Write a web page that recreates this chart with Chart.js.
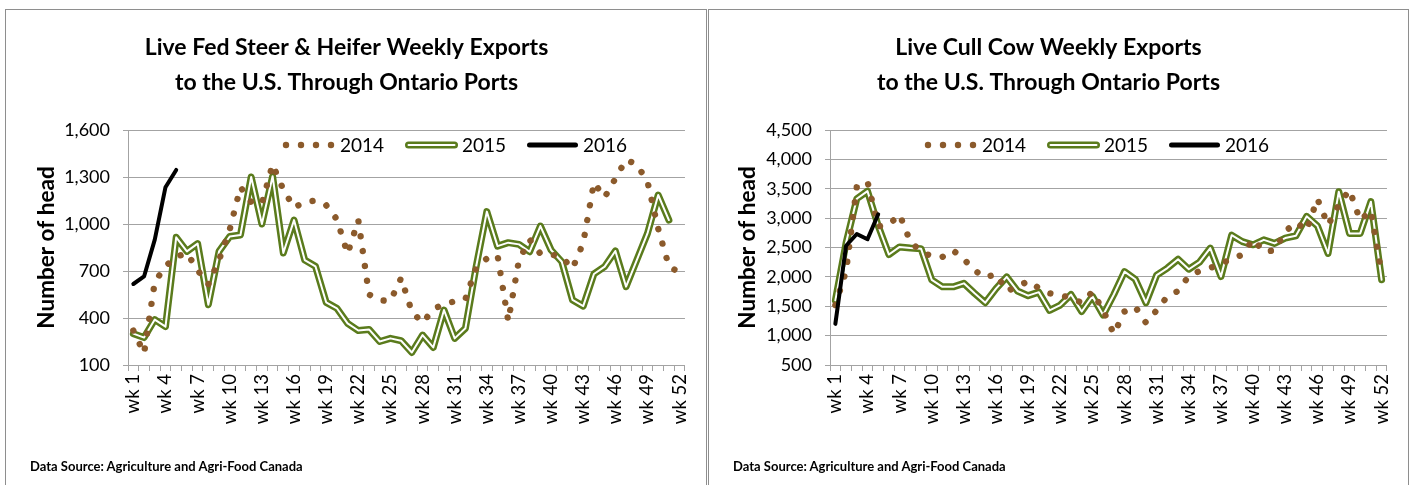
<!DOCTYPE html>
<html><head><meta charset="utf-8">
<script src="https://cdn.jsdelivr.net/npm/chart.js@4.4.1/dist/chart.umd.min.js"></script>
<style>
html,body{margin:0;padding:0;background:#fff;}
body{width:1411px;height:485px;position:relative;overflow:hidden;font-family:Lato,"Open Sans",sans-serif;}
.panel{position:absolute;box-sizing:border-box;border:1px solid #8e8e8e;background:#fff;}
canvas{position:absolute;}
.src{position:absolute;font:bold 13px Lato,sans-serif;color:#000;white-space:nowrap;line-height:16px;}
</style></head><body>
<div class="panel" style="left:5px;top:9px;width:702px;height:490px"></div>
<div class="panel" style="left:708px;top:9px;width:701px;height:490px"></div>
<canvas id="fed" width="699" height="474" style="left:6px;top:10px"></canvas>
<canvas id="cull" width="698" height="474" style="left:709px;top:10px"></canvas>
<div class="src" style="left:30px;top:458px">Data Source: Agriculture and Agri-Food Canada</div>
<div class="src" style="left:733px;top:458px">Data Source: Agriculture and Agri-Food Canada</div>
<script>
// ---------- DATA ----------
const weeks = Array.from({length: 52}, (_, i) => 'wk ' + (i + 1));
const seriesNames = ['2014', '2015', '2016'];

const fedSteer2014 = [320,175,630,730,790,815,705,615,770,965,
  1235,1140,1130,1380,1220,1105,1140,1150,1120,1030,
  810,1025,550,512,510,655,440,370,455,490,
  506,520,720,780,800,380,770,900,810,805,
  790,715,880,1264,1170,1290,1410,1380,1270,970,
  730,690];
const fedSteer2015 = [300,275,390,345,915,825,875,485,825,920,
  930,1300,1000,1305,815,1025,770,730,500,462,
  366,320,327,250,270,255,180,291,212,451,
  270,334,727,1079,859,881,870,823,987,834,
  759,515,476,681,728,828,600,770,940,1185,
  1025];
const fedSteer2016 = [617,665,900,1235,1345];

const cullCow2014 = [1520,2100,3530,3620,2860,2890,3060,2600,2430,2350,
  2340,2450,2300,2110,1990,2050,1760,1830,1930,1810,
  1720,1690,1640,1560,1745,1430,1030,1410,1490,1220,
  1430,1670,1760,2015,2100,2150,2230,2300,2380,2640,
  2430,2450,2770,2930,2790,3330,2880,3230,3480,2960,
  3130,2050];
const cullCow2015 = [1600,2580,3330,3460,2870,2380,2510,2490,2480,1950,
  1830,1830,1890,1720,1560,1800,2000,1760,1680,1740,
  1430,1520,1700,1410,1670,1350,1700,2090,1960,1560,
  2030,2150,2300,2130,2250,2490,2005,2710,2600,2545,
  2630,2570,2660,2700,3030,2870,2400,3450,2740,2740,
  3280,1950];
const cullCow2016 = [1200,2530,2730,2640,3065];

const fedTitle = ['Live Fed Steer & Heifer Weekly Exports', 'to the U.S. Through Ontario Ports'];
const cullTitle = ['Live Cull Cow Weekly Exports', 'to the U.S. Through Ontario Ports'];
const yTitle = 'Number of head';

// ---------- STYLE ----------
const FONT = 'Lato, "Open Sans", sans-serif';
const C14 = '#8b5a2b';
const C15 = '#5a7b1c';
const C16 = '#000000';
const GRID = '#a3a3a3';

const insideLegend = {
  id: 'insideLegend',
  afterDatasetsDraw(chart, args, opts) {
    const ctx = chart.ctx, a = chart.chartArea;
    const x0 = a.left + opts.offsetX, y = a.top + opts.offsetY;
    const names = opts.labels;
    ctx.save();
    ctx.fillStyle = C14;
    for (let i = 0; i < 4; i++) { ctx.beginPath(); ctx.arc(x0 + i * 15, y, 3.2, 0, Math.PI * 2); ctx.fill(); }
    ctx.lineCap = 'round';
    ctx.strokeStyle = C15; ctx.lineWidth = 7;
    ctx.beginPath(); ctx.moveTo(x0 + 122.5, y); ctx.lineTo(x0 + 168.5, y); ctx.stroke();
    ctx.strokeStyle = '#fff'; ctx.lineWidth = 2;
    ctx.beginPath(); ctx.moveTo(x0 + 122.5, y); ctx.lineTo(x0 + 168.5, y); ctx.stroke();
    ctx.strokeStyle = C16; ctx.lineWidth = 5;
    ctx.beginPath(); ctx.moveTo(x0 + 243.5, y); ctx.lineTo(x0 + 289.5, y); ctx.stroke();
    ctx.fillStyle = '#000'; ctx.font = '19px ' + FONT; ctx.textBaseline = 'middle'; ctx.textAlign = 'left';
    ctx.fillText(names[0], x0 + 54, y + 1);
    ctx.fillText(names[1], x0 + 176, y + 1);
    ctx.fillText(names[2], x0 + 297, y + 1);
    ctx.restore();
  }
};

function buildChart(id, s14, s15, s16, title, yMin, yMax, yStep, L) {
  return new Chart(document.getElementById(id), {
    type: 'line',
    data: {
      labels: weeks,
      datasets: [
        {label: seriesNames[2], data: s16, borderColor: C16, borderWidth: 4, borderCapStyle: 'round', borderJoinStyle: 'round', order: 0},
        {label: seriesNames[0], data: s14, borderColor: C14, borderWidth: 6.4, borderDash: [0.01, 15], borderCapStyle: 'round', borderJoinStyle: 'round', order: 1},
        {label: seriesNames[1], data: s15, borderColor: '#ffffff', borderWidth: 2, borderCapStyle: 'round', borderJoinStyle: 'round', order: 2},
        {label: seriesNames[1], data: s15, borderColor: C15, borderWidth: 7, borderCapStyle: 'round', borderJoinStyle: 'round', order: 3}
      ]
    },
    options: {
      responsive: false, animation: false, devicePixelRatio: 1,
      events: [],
      elements: {point: {radius: 0, hoverRadius: 0}, line: {tension: 0, fill: false}},
      layout: {padding: {left: 0, right: L.padRight, top: 0, bottom: L.padBottom}},
      plugins: {
        legend: {display: false},
        tooltip: {enabled: false},
        title: {display: true, text: title, color: '#000',
          font: {family: FONT, size: 23, weight: 'bold', lineHeight: '35px'},
          padding: {top: 20, bottom: 30}},
        insideLegend: {offsetX: L.legendX, offsetY: 15, labels: seriesNames}
      },
      scales: {
        x: {
          type: 'category', offset: true,
          grid: {offset: true, drawOnChartArea: false, drawTicks: true, tickLength: 6, color: GRID},
          border: {display: true, color: GRID},
          ticks: {autoSkip: false, maxRotation: 90, minRotation: 90, padding: 3, color: '#000',
            font: {family: FONT, size: 18.5},
            callback: function (v, i) { return i % 3 === 0 ? this.getLabelForValue(v) : ''; }},
          afterFit(s) { s.height = L.xHeight; }
        },
        y: {
          min: yMin, max: yMax,
          ticks: {stepSize: yStep, padding: 13, color: '#000', font: {family: FONT, size: 18},
            callback: v => v.toLocaleString('en-US')},
          grid: {color: GRID, tickLength: 5},
          border: {color: GRID},
          title: {display: true, text: yTitle, color: '#000', font: {family: FONT, size: 22.5, weight: 'bold'},
            padding: {top: L.yTitlePad, bottom: 0}},
          afterFit(s) { s.width = L.yWidth; }
        }
      }
    },
    plugins: [insideLegend]
  });
}

buildChart('fed', fedSteer2014, fedSteer2015, fedSteer2016, fedTitle, 100, 1600, 300,
  {padRight: 18, padBottom: 29, xHeight: 90, yWidth: 122, yTitlePad: 27.5, legendX: 158});
buildChart('cull', cullCow2014, cullCow2015, cullCow2016, cullTitle, 500, 4500, 500,
  {padRight: 19, padBottom: 29, xHeight: 90, yWidth: 121, yTitlePad: 25.5, legendX: 98});
</script>
</body></html>
